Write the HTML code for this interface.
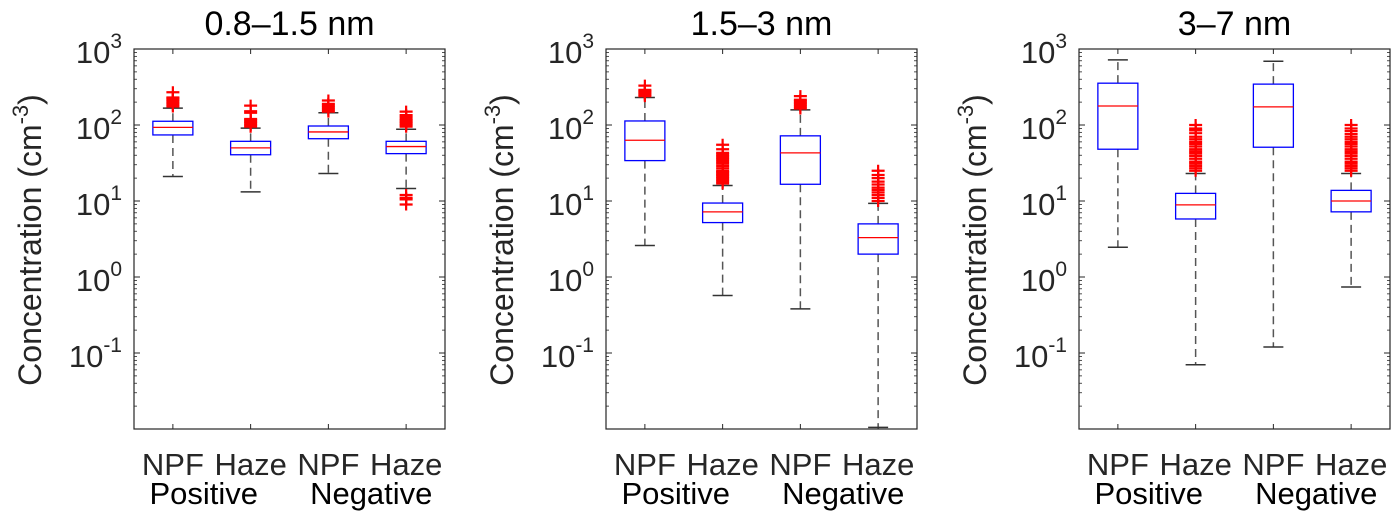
<!DOCTYPE html>
<html><head><meta charset="utf-8">
<style>
html,body{margin:0;padding:0;background:#fff;}
svg{display:block;font-family:"Liberation Sans",Arial,sans-serif;}
</style></head>
<body>
<svg id="chart" width="1400" height="524" viewBox="0 0 1400 524" xmlns="http://www.w3.org/2000/svg"></svg>
<script>
const panelTitles = ["0.8\u20131.5 nm", "1.5\u20133 nm", "3\u20137 nm"];
const categories = ["NPF", "Haze", "NPF", "Haze"];
const groupLabels = ["Positive", "Negative"];
const yTickExps = [3, 2, 1, 0, -1];
// per panel, per box: [lowerWhisker, q1, median, q3, upperWhisker]
const p1Stats = [[21,74,93,112,167],[13.2,40.6,50,61,91],[23,66,81,97,145],[14.6,42,52,61,88]];
const p2Stats = [[2.6,34,63,113,230],[0.57,5.2,7.2,9.4,16],[0.38,16.6,43,72,158],[0.0105,2.0,3.3,5.0,9.3]];
const p3Stats = [[2.46,48,178,355,720],[0.07,5.8,8.9,12.6,23],[0.12,51,173,345,690],[0.74,7.2,10,13.8,23]];
// outliers per box
const p1Out = [[175,185,195,205,215,225,230,270],[95,100,105,110,115,120,145,152,180],[150,160,170,180,190,210],[95,100,105,110,115,120,128,135,150,12,11,10.5,9]];
const p2Out = [[240,250,260,270,280,290,330],[17,18,19,20,21,22,23,24,25,27,29,31,33,35,37,39,41,43,48,55],[165,175,185,195,205,215,240],[10,11,12,13,14,15,16.5,18,20,22,25]];
const p3Out = [[],[25,27,29,31,33,36,39,42,45,48,52,56,60,65,70,78,85,90,100],[],[25,27,29,31,33,36,39,42,45,48,52,56,60,65,70,76,83,90,100]];

const panelStats = [p1Stats, p2Stats, p3Stats];
const panelOut = [p1Out, p2Out, p3Out];
const panelX = [134, 606, 1079];
const W = 311, TOP = 49, BOT = 429, DEC = 76, YMAX = 3;
const NS = "http://www.w3.org/2000/svg";
const svg = document.getElementById('chart');
function mk(tag, attrs, parent){const e=document.createElementNS(NS,tag);for(const k in attrs)e.setAttribute(k,attrs[k]);(parent||svg).appendChild(e);return e;}
function yScale(v){return TOP + DEC*(YMAX - Math.log10(v));}
function xScale(px,i){return px + W*(2*i+1)/8;}

panelTitles.forEach((title,p)=>{
  const px = panelX[p];
  const g = mk('g',{});
  
  
  const t = mk('text',{x:px+W/2,y:35,'text-anchor':'middle','font-size':34,fill:'#000'},g);
  t.textContent = title;
  
  
  yTickExps.forEach(e=>{
    const y = yScale(Math.pow(10,e));
    mk('line',{x1:px,x2:px+6,y1:y,y2:y,stroke:'#262626','stroke-width':1},g);
    mk('line',{x1:px+W,x2:px+W-6,y1:y,y2:y,stroke:'#262626','stroke-width':1},g);
    const lab = mk('text',{x:px-12,y:y+14,'text-anchor':'end','font-size':31,fill:'#262626'},g);
    
    
    const s1 = mk('tspan',{},lab); s1.textContent='10';
    const s2 = mk('tspan',{dy:-15,'font-size':21},lab); s2.textContent=String(e);
  });
  for(let e=-2;e<3;e++){for(let m=2;m<10;m++){const y=yScale(m*Math.pow(10,e));
    mk('line',{x1:px,x2:px+3,y1:y,y2:y,stroke:'#262626','stroke-width':0.8},g);
    mk('line',{x1:px+W,x2:px+W-3,y1:y,y2:y,stroke:'#262626','stroke-width':0.8},g);}}
  categories.forEach((c,i)=>{
    const x=xScale(px,i);
    mk('line',{x1:x,x2:x,y1:BOT,y2:BOT-5,stroke:'#262626'},g);
    mk('line',{x1:x,x2:x,y1:TOP,y2:TOP+5,stroke:'#262626'},g);
    const l=mk('text',{x:x,y:475,'text-anchor':'middle','font-size':31,fill:'#262626'},g);
    l.textContent=c;
    
    
  });
  groupLabels.forEach((gl,k)=>{
    const x=(xScale(px,2*k)+xScale(px,2*k+1))/2 + (k===0?-8:4);
    const l=mk('text',{x:x,y:504,'text-anchor':'middle','font-size':31,fill:'#000'},g);
    l.textContent=gl;
    
    
  });
  const yt=mk('text',{x:0,y:0,'text-anchor':'middle','font-size':32,fill:'#262626',transform:`translate(${px-93},240) rotate(-90)`},g);
  
  
  const a=mk('tspan',{},yt); a.textContent='Concentration (cm';
  const b=mk('tspan',{dy:-13,'font-size':22},yt); b.textContent='-3';
  const c2=mk('tspan',{dy:13},yt); c2.textContent=')';
  panelStats[p].forEach((s,i)=>{
    const x=xScale(px,i), hw=20, cw=10;
    const bg=mk('g',{},g);
    
    
    const [lw,q1,md,q3,uw]=s;
    mk('line',{x1:x,x2:x,y1:yScale(q1),y2:yScale(lw),stroke:'#555','stroke-width':1.5,'stroke-dasharray':'8,5'},bg);
    mk('line',{x1:x,x2:x,y1:yScale(q3),y2:yScale(uw),stroke:'#555','stroke-width':1.5,'stroke-dasharray':'8,5'},bg);
    mk('line',{x1:x-cw,x2:x+cw,y1:yScale(lw),y2:yScale(lw),stroke:'#333','stroke-width':1.5},bg);
    mk('line',{x1:x-cw,x2:x+cw,y1:yScale(uw),y2:yScale(uw),stroke:'#333','stroke-width':1.5},bg);
    mk('rect',{x:x-hw,y:yScale(q3),width:2*hw,height:yScale(q1)-yScale(q3),fill:'none',stroke:'#0000ff','stroke-width':1.3},bg);
    mk('line',{x1:x-hw,x2:x+hw,y1:yScale(md),y2:yScale(md),stroke:'#ff0000','stroke-width':1.3},bg);
    panelOut[p][i].forEach(v=>{
      const y=yScale(v);
      const o=mk('path',{d:`M${x-6.5},${y}H${x+6.5}M${x},${y-6}V${y+6}`,stroke:'#ff0000','stroke-width':2.2},bg);
      
      
    });
  });
  const fr=mk('rect',{x:px,y:TOP,width:W,height:BOT-TOP,fill:'none',stroke:'#262626','stroke-width':1.2},g);
  
  
});
</script>
</body></html>
